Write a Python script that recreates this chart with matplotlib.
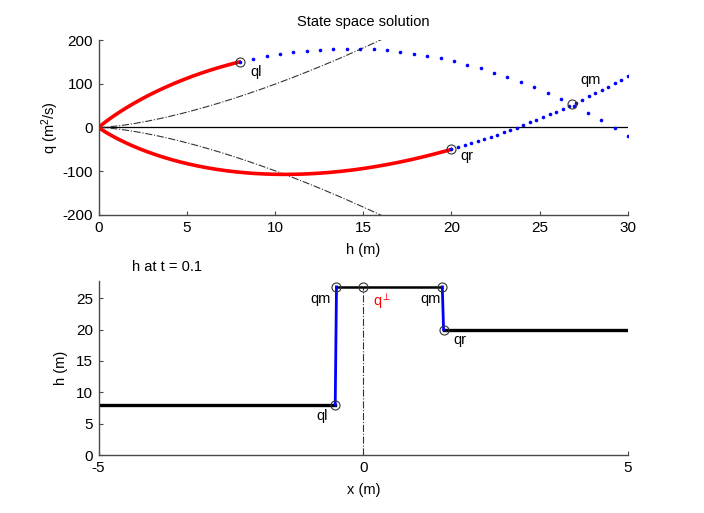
import numpy as np
import matplotlib
matplotlib.use("Agg")
import matplotlib.pyplot as plt

plt.rcParams['font.family'] = ['Liberation Sans', 'DejaVu Sans']
plt.rcParams['mathtext.fontset'] = 'custom'
plt.rcParams['mathtext.rm'] = 'Liberation Sans'
plt.rcParams['mathtext.it'] = 'Liberation Sans'
plt.rcParams['axes.unicode_minus'] = False

# Riemann problem for the shallow water equations
g = 9.81
h_left, q_left = 8.0, 150.0      # left state  (h, hu)
h_right, q_right = 20.0, -50.0   # right state (h, hu)
t_snapshot = 0.1
h_plot_max = 30.0
x_range = [-5.0, 5.0]
n_dots_1shock = 30
n_dots_2shock = 28
grid_half_step = 0.012

u_left = q_left / h_left
u_right = q_right / h_right


def shock_u(h, h0, u0, sign):
    return u0 + sign * (h - h0) * np.sqrt(g / 2.0 * (1.0 / h + 1.0 / h0))


def raref_u(h, h0, u0, sign):
    return u0 + sign * 2.0 * (np.sqrt(g * h0) - np.sqrt(g * h))


def phi(h):
    u1 = shock_u(h, h_left, u_left, -1) if h > h_left else raref_u(h, h_left, u_left, 1)
    u2 = shock_u(h, h_right, u_right, 1) if h > h_right else raref_u(h, h_right, u_right, -1)
    return u1 - u2


# middle state by bisection
a, b = 1e-3, 100.0
for _ in range(200):
    m = 0.5 * (a + b)
    if phi(a) * phi(m) <= 0:
        b = m
    else:
        a = m
h_mid = 0.5 * (a + b)
u_mid = shock_u(h_mid, h_left, u_left, -1)
q_mid = h_mid * u_mid

# wave speeds (Rankine-Hugoniot)
s1 = (q_mid - q_left) / (h_mid - h_left)
s2 = (q_mid - q_right) / (h_mid - h_right)
x1 = s1 * t_snapshot
x2 = s2 * t_snapshot

fig = plt.figure(figsize=(7.04, 5.13), dpi=100)
fig.patch.set_facecolor('white')

spine_col = '#4a4a4a'
fs = 10.5


def style_axes(ax):
    for side in ('top', 'right'):
        ax.spines[side].set_visible(False)
    for side in ('left', 'bottom'):
        ax.spines[side].set_color(spine_col)
        ax.spines[side].set_linewidth(1.0)
    ax.tick_params(direction='in', length=3, width=0.8, color=spine_col,
                   labelsize=11, pad=4)


# ---------------- state space ----------------
ax1 = fig.add_axes([0.140, 0.581, 0.752, 0.341])

h_r1 = np.linspace(0, h_left, 200)
h_r2 = np.linspace(0, h_right, 300)
h_s1 = np.linspace(h_left, h_plot_max, n_dots_1shock)
h_s2 = np.linspace(h_right, h_plot_max, n_dots_2shock)
h_sonic = np.linspace(0, 16.2, 200)

ax1.plot([0, h_plot_max], [0, 0], color='black', lw=0.9)
ax1.plot(h_sonic, np.sqrt(g) * h_sonic ** 1.5, color='#333333', lw=0.8, ls='-.')
ax1.plot(h_sonic, -np.sqrt(g) * h_sonic ** 1.5, color='#333333', lw=0.8, ls='-.')
ax1.plot(h_r1, h_r1 * raref_u(h_r1, h_left, u_left, 1), color='red', lw=2.6,
         solid_capstyle='round')
ax1.plot(h_r2, h_r2 * raref_u(h_r2, h_right, u_right, -1), color='red', lw=2.6,
         solid_capstyle='round')
ax1.plot(h_s1, h_s1 * shock_u(h_s1, h_left, u_left, -1), ls='none', marker='o',
         ms=2.6, mfc='blue', mec='none')
ax1.plot(h_s2, h_s2 * shock_u(h_s2, h_right, u_right, 1), ls='none', marker='o',
         ms=2.6, mfc='blue', mec='none')
ax1.plot([h_left, h_right, h_mid], [q_left, q_right, q_mid], ls='none', marker='o',
         ms=6.5, mfc='none', mec='#333333', mew=0.8)
ax1.text(h_left + 0.6, q_left - 22, 'ql', fontsize=fs, va='center', ha='left')
ax1.text(h_right + 0.5, q_right - 15, 'qr', fontsize=fs, va='center', ha='left')
ax1.text(h_mid + 0.5, q_mid + 55, 'qm', fontsize=fs, va='center', ha='left')

ax1.set_xlim(0, h_plot_max)
ax1.set_ylim(-200, 200)
ax1.set_xticks([0, 5, 10, 15, 20, 25, 30])
ax1.set_yticks([-200, -100, 0, 100, 200])
ax1.set_title('State space solution', fontsize=fs, pad=10)
ax1.set_xlabel('h (m)', fontsize=fs, labelpad=6)
ax1.set_ylabel('q (m$^2$/s)', fontsize=fs, labelpad=1)
style_axes(ax1)

# ---------------- depth profile ----------------
ax2 = fig.add_axes([0.140, 0.113, 0.752, 0.340])
d = grid_half_step

ax2.plot([0, 0], [0, h_mid], color='#333333', lw=0.8, ls='-.')
ax2.plot([x_range[0], x1 - d], [h_left, h_left], color='black', lw=2.4)
ax2.plot([x1 + d, x2 - d], [h_mid, h_mid], color='black', lw=1.8)
ax2.plot([x2 + d, x_range[1]], [h_right, h_right], color='black', lw=2.4)
ax2.plot([x1 - d, x1 + d], [h_left, h_mid], color='blue', lw=2.0)
ax2.plot([x2 - d, x2 + d], [h_mid, h_right], color='blue', lw=2.0)
ax2.plot([x1 - d, x1 + d, 0, x2 - d, x2 + d], [h_left, h_mid, h_mid, h_mid, h_right],
         ls='none', marker='o', ms=6.5, mfc='none', mec='#333333', mew=0.8)
ax2.text(x1 - 0.15, h_left - 1.7, 'ql', fontsize=fs, va='center', ha='right')
ax2.text(x1 - 0.09, h_mid - 1.9, 'qm', fontsize=fs, va='center', ha='right')
ax2.text(0.18, h_mid - 2.3, r'q$^{\perp}$', fontsize=fs, va='center', ha='left',
         color='red')
ax2.text(x2 - 0.05, h_mid - 1.9, 'qm', fontsize=fs, va='center', ha='right')
ax2.text(x2 + 0.2, h_right - 1.7, 'qr', fontsize=fs, va='center', ha='left')
ax2.text(-4.36, h_mid + 3.2, 'h at t = %g' % t_snapshot, fontsize=fs,
         va='center', ha='left')

ax2.set_xlim(*x_range)
ax2.set_ylim(0, h_mid + 1)
ax2.set_xticks([-5, 0, 5])
ax2.set_yticks([0, 5, 10, 15, 20, 25])
ax2.set_xlabel('x (m)', fontsize=fs, labelpad=6)
ax2.set_ylabel('h (m)', fontsize=fs, labelpad=6)
style_axes(ax2)

fig.savefig('out.png', dpi=100, facecolor='white')
